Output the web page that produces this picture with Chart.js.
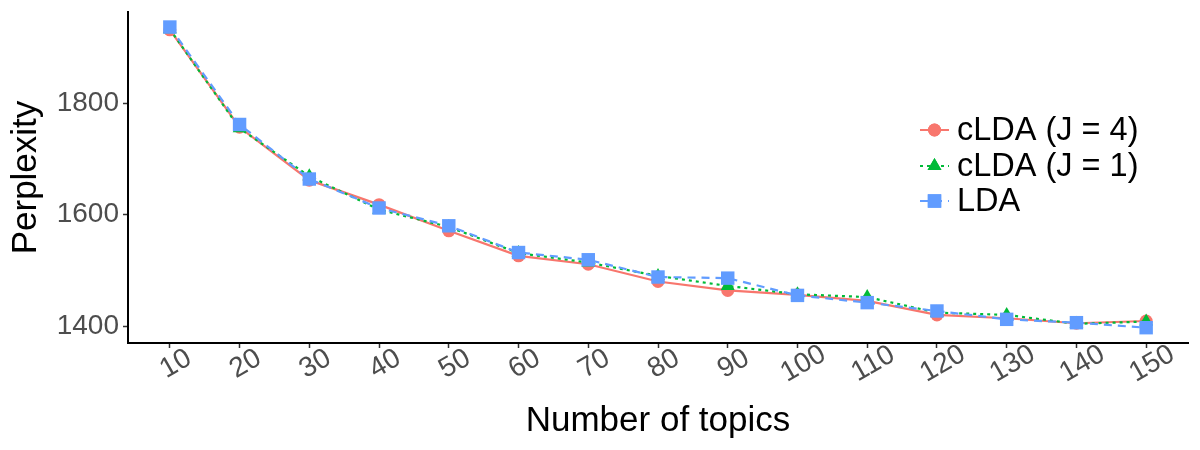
<!DOCTYPE html>
<html>
<head>
<meta charset="utf-8">
<script src="https://cdn.jsdelivr.net/npm/chart.js@4.4.1/dist/chart.umd.min.js"></script>
<style>
  html, body { margin: 0; padding: 0; background: #ffffff; }
  #wrap { width: 1200px; height: 450px; position: relative; }
</style>
</head>
<body>
<div id="wrap"><canvas id="c" width="1200" height="450"></canvas></div>
<script>
// ---- data ----
const topics = [10, 20, 30, 40, 50, 60, 70, 80, 90, 100, 110, 120, 130, 140, 150];
const cldaJ4 = [1932, 1757, 1662, 1618, 1571, 1526, 1511, 1480, 1464, 1456, 1445, 1420, 1414, 1405, 1409];
const cldaJ1 = [1933, 1755, 1669, 1609, 1578, 1531, 1514, 1490, 1472, 1457, 1452, 1424, 1420, 1404, 1408];
const lda    = [1937, 1762, 1664, 1612, 1580, 1532, 1519, 1488, 1486, 1455, 1442, 1427, 1412, 1406, 1397];
const yTicks = [1400, 1600, 1800];
const seriesNames = ['cLDA (J = 4)', 'cLDA (J = 1)', 'LDA'];
const xTitle = 'Number of topics';
const yTitle = 'Perplexity';

const FONT = "'Liberation Sans', Arial, Helvetica, sans-serif";
const COLORS = ['#F8766D', '#00BA38', '#619CFF'];
const DASHES = [[], [3, 4], [8, 6]];
const STYLES = ['circle', 'triangle', 'rect'];
const RADII = [6.5, 8, 9.5];

function pts(arr) { return topics.map((t, i) => ({ x: t, y: arr[i] })); }

const xLabelPlugin = {
  id: 'xLabels',
  afterDraw(chart) {
    const ctx = chart.ctx;
    const sx = chart.scales.x;
    ctx.save();
    ctx.fillStyle = '#4D4D4D';
    ctx.font = "28px " + FONT;
    ctx.textAlign = 'center';
    ctx.textBaseline = 'middle';
    topics.forEach((v) => {
      const px = sx.getPixelForValue(v);
      ctx.save();
      ctx.translate(px + 6, 364);
      ctx.rotate(-Math.PI / 6);
      ctx.fillText(String(v), 0, 0);
      ctx.restore();
    });
    ctx.restore();
  }
};

const legendPlugin = {
  id: 'innerLegend',
  afterDraw(chart) {
    const ctx = chart.ctx;
    const x0 = 920, x1 = 949, xm = 934.5, tx = 957;
    const ys = [130, 166, 201];
    ctx.save();
    seriesNames.forEach((name, i) => {
      const y = ys[i];
      ctx.strokeStyle = COLORS[i];
      ctx.lineWidth = 2;
      ctx.setLineDash(DASHES[i]);
      ctx.beginPath(); ctx.moveTo(x0, y); ctx.lineTo(x1, y); ctx.stroke();
      ctx.setLineDash([]);
      ctx.fillStyle = COLORS[i];
      Chart.helpers.drawPoint(ctx, { pointStyle: STYLES[i], radius: RADII[i], borderWidth: 0, rotation: 0 }, xm, y);
      ctx.fill();
      ctx.fillStyle = '#000000';
      ctx.font = "32.5px " + FONT;
      ctx.textBaseline = 'middle';
      ctx.textAlign = 'left';
      ctx.fillText(name, tx, y + 1);
    });
    ctx.restore();
  }
};

const datasets = [cldaJ4, cldaJ1, lda].map((arr, i) => ({
  label: seriesNames[i],
  data: pts(arr),
  borderColor: COLORS[i],
  backgroundColor: COLORS[i],
  borderWidth: 2.2,
  borderDash: DASHES[i],
  pointStyle: STYLES[i],
  pointRadius: RADII[i],
  pointBorderWidth: 0,
  pointBackgroundColor: COLORS[i],
  tension: 0,
  order: 2 - i,
  clip: false
}));

new Chart(document.getElementById('c'), {
  type: 'line',
  data: { datasets },
  plugins: [xLabelPlugin, legendPlugin],
  options: {
    responsive: false,
    animation: false,
    events: [],
    layout: { padding: { left: 0, right: 12, top: 12, bottom: 0 } },
    plugins: { legend: { display: false }, tooltip: { enabled: false } },
    scales: {
      x: {
        type: 'linear',
        min: 4, max: 156,
        afterBuildTicks: (s) => { s.ticks = topics.map(v => ({ value: v })); },
        afterFit: (s) => { s.height = 107; s.paddingLeft = 0; s.paddingRight = 0; },
        ticks: { display: false },
        grid: { display: true, drawOnChartArea: false, drawTicks: true, tickLength: 5, tickColor: '#333333', tickWidth: 1.5 },
        border: { display: true, color: '#000000', width: 2 },
        title: { display: true, text: xTitle, color: '#000000', font: { family: FONT, size: 35 }, padding: { top: 0, bottom: 8 } }
      },
      y: {
        type: 'linear',
        min: 1369.5, max: 1964,
        afterBuildTicks: (s) => { s.ticks = yTicks.map(v => ({ value: v })); },
        afterFit: (s) => { s.width = 128; s.paddingTop = 0; s.paddingBottom = 0; },
        ticks: {
          color: '#4D4D4D', font: { family: FONT, size: 28 }, padding: 4,
          callback: (v) => String(v)
        },
        grid: { display: true, drawOnChartArea: false, drawTicks: true, tickLength: 5, tickColor: '#333333', tickWidth: 1.5 },
        border: { display: true, color: '#000000', width: 2 },
        title: { display: true, text: yTitle, color: '#000000', font: { family: FONT, size: 35 }, padding: { top: 5, bottom: 0 } }
      }
    }
  }
});
</script>
</body>
</html>
